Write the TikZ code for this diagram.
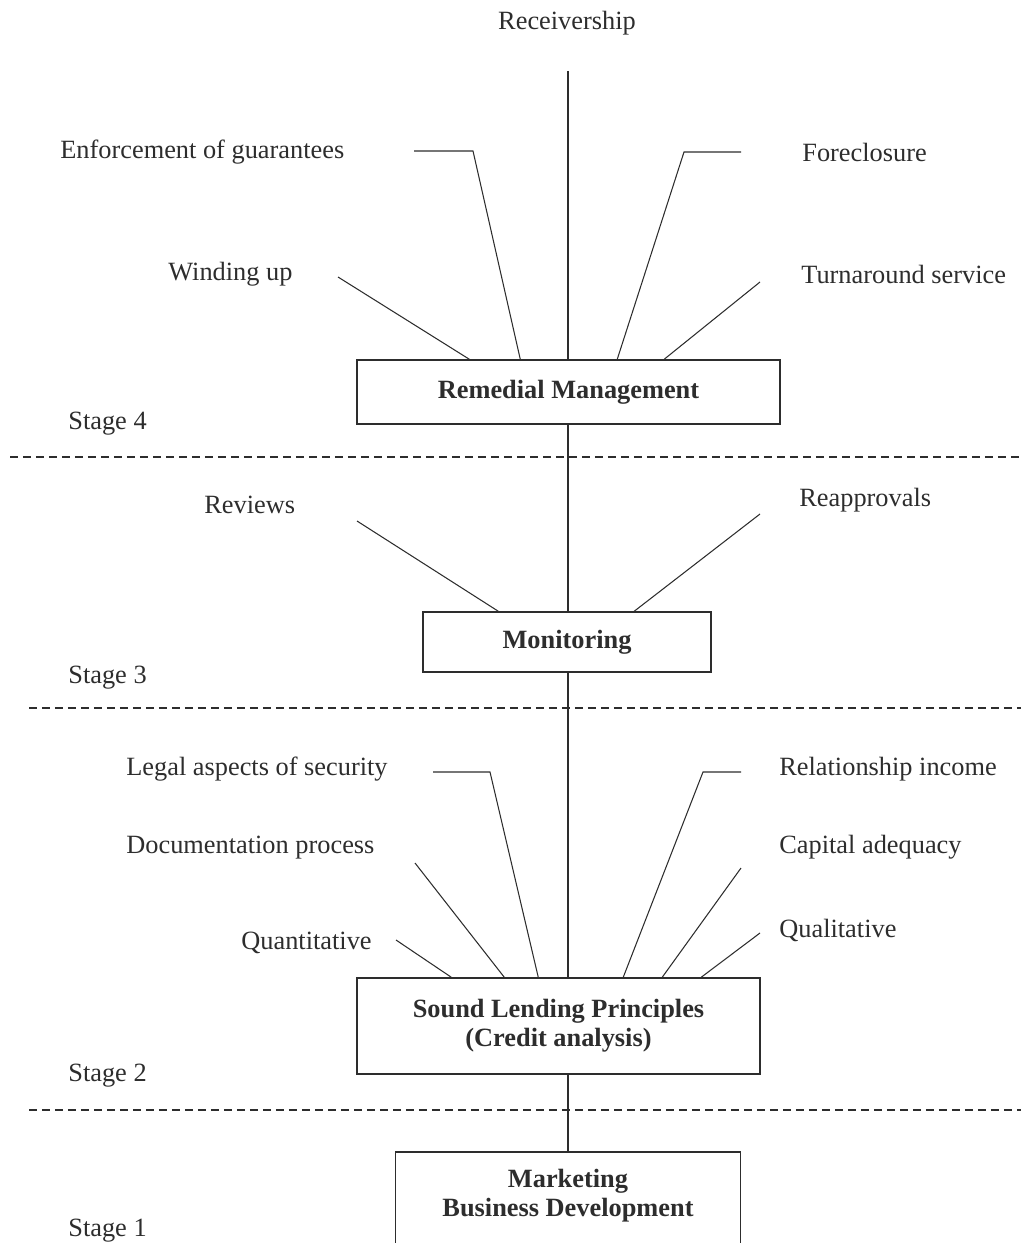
\documentclass[tikz,border=0pt]{standalone}
\usepackage{fontspec}
\setmainfont{Liberation Serif}
\usetikzlibrary{calc}
\definecolor{ink}{RGB}{45,45,45}
\tikzset{
  stagebox/.style={draw=ink, line width=0.9pt, text=ink, align=center, inner sep=0pt,
    font=\fontsize{15}{16.5}\selectfont\bfseries},
  lbl/.style={text=ink, inner sep=0pt, anchor=west, yshift=-0.05cm, font=\fontsize{15}{17}\selectfont},
  spoke/.style={draw=ink, line width=0.6pt},
  divider/.style={draw=ink, line width=0.8pt, dash pattern=on 0.16cm off 0.1cm}
}

\begin{document}
\begin{tikzpicture}[x=0.02cm, y=-0.02cm]
\useasboundingbox (0,0) rectangle (1021,1243);

\node[stagebox, minimum width=8.46cm, minimum height=1.28cm] (rm) at (568.5,392) {Remedial Management};
\node[stagebox, minimum width=5.76cm, minimum height=1.2cm] (mo) at (567,642) {Monitoring};
\node[stagebox, minimum width=8.06cm, minimum height=1.92cm] (sl) at (558.5,1026) {Sound Lending Principles\\(Credit analysis)};
\node[stagebox, anchor=north, minimum width=6.9cm, inner ysep=0.35cm, text depth=3cm] (mbd) at (568,1151) {Marketing\\Business Development};

\node[lbl, anchor=center] (rcv) at (567,21) {Receivership};
\node[lbl] (enf) at (60,150) {Enforcement of guarantees};
\node[lbl] (fore) at (802,150) {Foreclosure};
\node[lbl] (wind) at (168,272) {Winding up};
\node[lbl] (turn) at (801,272) {Turnaround service};
\node[lbl] (rev) at (204,502) {Reviews};
\node[lbl] (reap) at (799,498) {Reapprovals};
\node[lbl] (legal) at (126,767) {Legal aspects of security};
\node[lbl] (rel) at (779,767) {Relationship income};
\node[lbl] (doc) at (126,845) {Documentation process};
\node[lbl] (cap) at (779,845) {Capital adequacy};
\node[lbl] (quant) at (241,940) {Quantitative};
\node[lbl] (qual) at (779,928) {Qualitative};

\foreach \n/\y in {4/421,3/675,2/1073,1/1228}
  \node[lbl] (stage\n) at (68,\y) {Stage \n};

\foreach \x/\y in {10/457,29/708,29/1110}
  \draw[divider] (\x,\y) -- (1021,\y);

\coordinate (rcvend) at (568,71);
\coordinate (enfa) at (414,151);  \coordinate (enfb) at (473,151);
\coordinate (forea) at (741,152); \coordinate (foreb) at (684,152);
\coordinate (windend) at (338,277);
\coordinate (turnend) at (760,282);
\coordinate (revend) at (357,521);
\coordinate (reapend) at (760,514);
\coordinate (legala) at (433,772); \coordinate (legalb) at (490,772);
\coordinate (rela) at (741,772);   \coordinate (relb) at (703,772);
\coordinate (docend) at (415,863);
\coordinate (capend) at (741,868);
\coordinate (quantend) at (396,940);
\coordinate (qualend) at (760,933);

\draw[spoke] (rcvend) -- (rm.north -| rcvend);
\draw[spoke] (enfa) -- (enfb) -- ($(rm.north west)+(164,0)$);
\draw[spoke] (forea) -- (foreb) -- ($(rm.north west)+(261,0)$);
\draw[spoke] (windend) -- ($(rm.north west)+(113,0)$);
\draw[spoke] (turnend) -- ($(rm.north west)+(308,0)$);
\draw[spoke] (rm.south -| rcvend) -- (mo.north -| rcvend);
\draw[spoke] (revend) -- ($(mo.north west)+(76,0)$);
\draw[spoke] (reapend) -- ($(mo.north west)+(212,0)$);
\draw[spoke] (mo.south -| rcvend) -- (sl.north -| rcvend);
\draw[spoke] (legala) -- (legalb) -- ($(sl.north west)+(182,0)$);
\draw[spoke] (rela) -- (relb) -- ($(sl.north west)+(267,0)$);
\draw[spoke] (docend) -- ($(sl.north west)+(148,0)$);
\draw[spoke] (capend) -- ($(sl.north west)+(306,0)$);
\draw[spoke] (quantend) -- ($(sl.north west)+(95,0)$);
\draw[spoke] (qualend) -- ($(sl.north west)+(345,0)$);
\draw[spoke] (sl.south -| rcvend) -- (mbd.north);
\end{tikzpicture}
\end{document}
